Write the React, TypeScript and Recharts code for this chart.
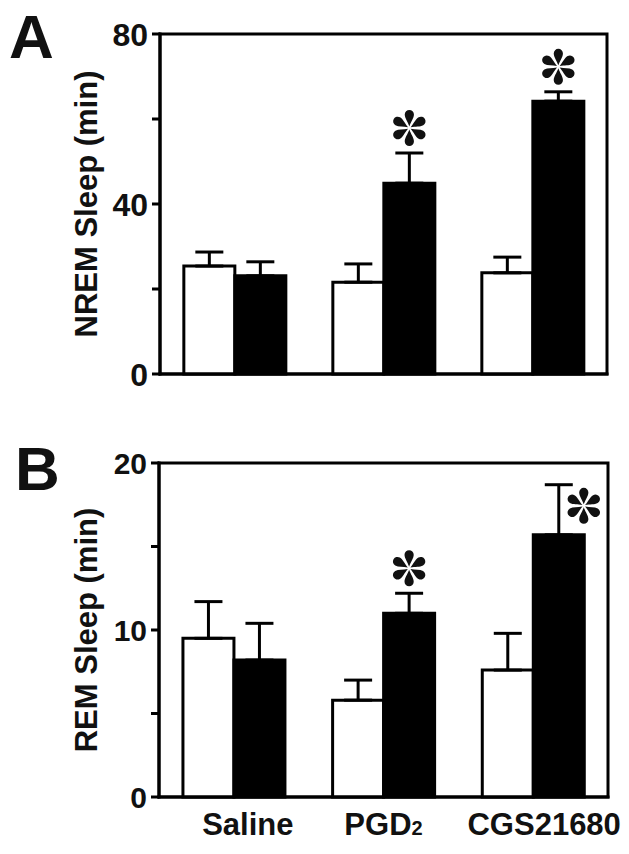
import React from 'react';
import { BarChart, Bar, XAxis, YAxis, ErrorBar, LabelList, ReferenceArea } from 'recharts';

// groups on the x axis
const categories = ['Saline', 'PGD2', 'CGS21680'];

// panel A: NREM sleep (min), white = control, black = treated
const nremControl = [25.4, 21.6, 23.8];
const nremControlErr = [3.3, 4.3, 3.7];
const nremDrug = [23.1, 44.9, 64.2];
const nremDrugErr = [3.3, 7.1, 2.2];
const nremSig = [false, true, true];

// panel B: REM sleep (min)
const remControl = [9.5, 5.8, 7.6];
const remControlErr = [2.2, 1.2, 2.2];
const remDrug = [8.2, 11.0, 15.7];
const remDrugErr = [2.2, 1.2, 3.0];
const remSig = [false, true, true];

// tick values
const nremTicks = [0, 20, 40, 60, 80];
const nremLabelled = [0, 40, 80];
const remTicks = [0, 5, 10, 15, 20];
const remLabelled = [0, 10, 20];

const FONT = '"Liberation Sans", Arial, Helvetica, sans-serif';
const INK = '#111';

const buildRows = (ctl: number[], ctlErr: number[], drug: number[], drugErr: number[]) =>
  categories.map((name, i) => ({
    name,
    control: ctl[i],
    controlErr: ctlErr[i],
    drug: drug[i],
    drugErr: drugErr[i],
  }));

const nremData = buildRows(nremControl, nremControlErr, nremDrug, nremDrugErr);
const remData = buildRows(remControl, remControlErr, remDrug, remDrugErr);

// small nudges so the x labels sit like the original
const xLabelShift = [14, 0, 11];

const makeYTick = (labelled: number[], fontSize: number) => (props: any) => {
  const { x, y, payload } = props;
  if (!labelled.includes(payload.value)) return <g />;
  return (
    <text
      x={x}
      y={y}
      dy="0.36em"
      textAnchor="end"
      fontFamily={FONT}
      fontWeight="bold"
      fontSize={fontSize}
      fill={INK}
    >
      {payload.value}
    </text>
  );
};

const XTick = (props: any) => {
  const { x, y, payload, index } = props;
  const label = String(payload.value);
  const cx = x + (xLabelShift[index] ?? 0);
  return (
    <text
      x={cx}
      y={y + 38}
      textAnchor="middle"
      fontFamily={FONT}
      fontWeight="bold"
      fontSize={31}
      fill={INK}
    >
      {label === 'PGD2' ? (
        <>
          PGD<tspan fontSize={20}>2</tspan>
        </>
      ) : (
        label
      )}
    </text>
  );
};

const makeTitle = (value: string) => (props: any) => {
  const vb = props.viewBox;
  const tx = vb.x + 97;
  const ty = vb.y + vb.height / 2;
  return (
    <text
      x={tx}
      y={ty}
      transform={`rotate(-90, ${tx}, ${ty})`}
      textAnchor="middle"
      fontFamily={FONT}
      fontWeight="bold"
      fontSize={31}
      fill={INK}
    >
      {value}
    </text>
  );
};

// six teardrop petals, thin end at the centre
const PETAL_L = 18;
const PETAL_R = 4.6;
const petalPath =
  `M0,-1.5 C${-PETAL_R * 0.35},${-PETAL_L * 0.35} ${-PETAL_R},${-PETAL_L + PETAL_R * 1.8} ${-PETAL_R},${-(PETAL_L - PETAL_R)} ` +
  `A${PETAL_R},${PETAL_R} 0 0 1 ${PETAL_R},${-(PETAL_L - PETAL_R)} ` +
  `C${PETAL_R},${-PETAL_L + PETAL_R * 1.8} ${PETAL_R * 0.35},${-PETAL_L * 0.35} 0,-1.5 Z`;

const Star = ({ cx, cy }: { cx: number; cy: number }) => (
  <g transform={`translate(${cx},${cy})`}>
    {[0, 60, 120, 180, 240, 300].map((a) => (
      <path key={a} d={petalPath} transform={`rotate(${a})`} fill={INK} />
    ))}
  </g>
);

// asterisk above the error bar, or beside it
const makeStar = (sig: boolean[], errs: number[], vals: number[], side: boolean[]) => (props: any) => {
  const { x, y, width, height, index } = props;
  if (!sig[index]) return <g />;
  const pxPerUnit = height / vals[index];
  const errTop = y - errs[index] * pxPerUnit;
  let cx = x + width / 2;
  let cy = errTop - 25;
  if (side[index]) {
    cx = x + width / 2 + 25;
    cy = y - 29;
  }
  return <Star cx={cx} cy={cy} />;
};

const axisLine = { stroke: '#000', strokeWidth: 3, strokeLinecap: 'square' as const };

type PanelProps = {
  data: any[];
  height: number;
  top: number;
  right: number;
  yWidth: number;
  xHeight: number;
  ticks: number[];
  labelled: number[];
  tickFont: number;
  max: number;
  title: string;
  sig: boolean[];
  drugVals: number[];
  drugErrs: number[];
  starSide: boolean[];
  showX: boolean;
};

function Panel(p: PanelProps) {
  return (
    <BarChart
      width={629}
      height={p.height}
      data={p.data}
      margin={{ top: p.top, right: p.right, bottom: 0, left: 0 }}
      barCategoryGap="16%"
      barGap={0}
    >
      <XAxis
        dataKey="name"
        height={p.xHeight}
        axisLine={axisLine}
        tickLine={false}
        tickSize={0}
        tickMargin={0}
        tick={p.showX ? <XTick /> : false}
        interval={0}
      />
      <YAxis
        width={p.yWidth}
        domain={[0, p.max]}
        ticks={p.ticks}
        interval={0}
        axisLine={axisLine}
        tickLine={{ stroke: '#000', strokeWidth: 3 }}
        tickSize={8}
        tickMargin={4}
        tick={makeYTick(p.labelled, p.tickFont)}
        label={makeTitle(p.title)}
      />
      {/* frame round the plot */}
      <ReferenceArea
        y1={0}
        y2={p.max}
        fill="none"
        fillOpacity={0}
        stroke="#000"
        strokeWidth={3}
        ifOverflow="visible"
      />
      <Bar dataKey="control" fill="#fff" stroke="#000" strokeWidth={3} isAnimationActive={false}>
        <ErrorBar
          dataKey={(d: any) => [0, d.controlErr]}
          direction="y"
          width={14}
          stroke="#000"
          strokeWidth={3}
          isAnimationActive={false}
        />
      </Bar>
      <Bar dataKey="drug" fill="#000" stroke="#000" strokeWidth={3} isAnimationActive={false}>
        <ErrorBar
          dataKey={(d: any) => [0, d.drugErr]}
          direction="y"
          width={14}
          stroke="#000"
          strokeWidth={3}
          isAnimationActive={false}
        />
        <LabelList dataKey="drug" content={makeStar(p.sig, p.drugErrs, p.drugVals, p.starSide)} />
      </Bar>
    </BarChart>
  );
}

export default function App() {
  return (
    <div style={{ position: 'absolute', left: 0, top: 0, width: 629, height: 854, background: '#fff' }}>
      <div style={{ position: 'absolute', left: 0, top: 0 }}>
        <Panel
          data={nremData}
          height={420}
          top={34}
          right={22}
          yWidth={160}
          xHeight={46}
          ticks={nremTicks}
          labelled={nremLabelled}
          tickFont={32}
          max={80}
          title="NREM Sleep (min)"
          sig={nremSig}
          drugVals={nremDrug}
          drugErrs={nremDrugErr}
          starSide={[false, false, false]}
          showX={false}
        />
      </div>
      <div style={{ position: 'absolute', left: 0, top: 420 }}>
        <Panel
          data={remData}
          height={434}
          top={43}
          right={21}
          yWidth={159}
          xHeight={57}
          ticks={remTicks}
          labelled={remLabelled}
          tickFont={30}
          max={20}
          title="REM Sleep (min)"
          sig={remSig}
          drugVals={remDrug}
          drugErrs={remDrugErr}
          starSide={[false, false, true]}
          showX={true}
        />
      </div>
      <svg
        width={629}
        height={854}
        style={{ position: 'absolute', left: 0, top: 0, pointerEvents: 'none' }}
      >
        <text x={9} y={58} fontFamily={FONT} fontWeight="bold" fontSize={62} fill={INK}>
          A
        </text>
        <text x={15} y={490} fontFamily={FONT} fontWeight="bold" fontSize={62} fill={INK}>
          B
        </text>
      </svg>
    </div>
  );
}
